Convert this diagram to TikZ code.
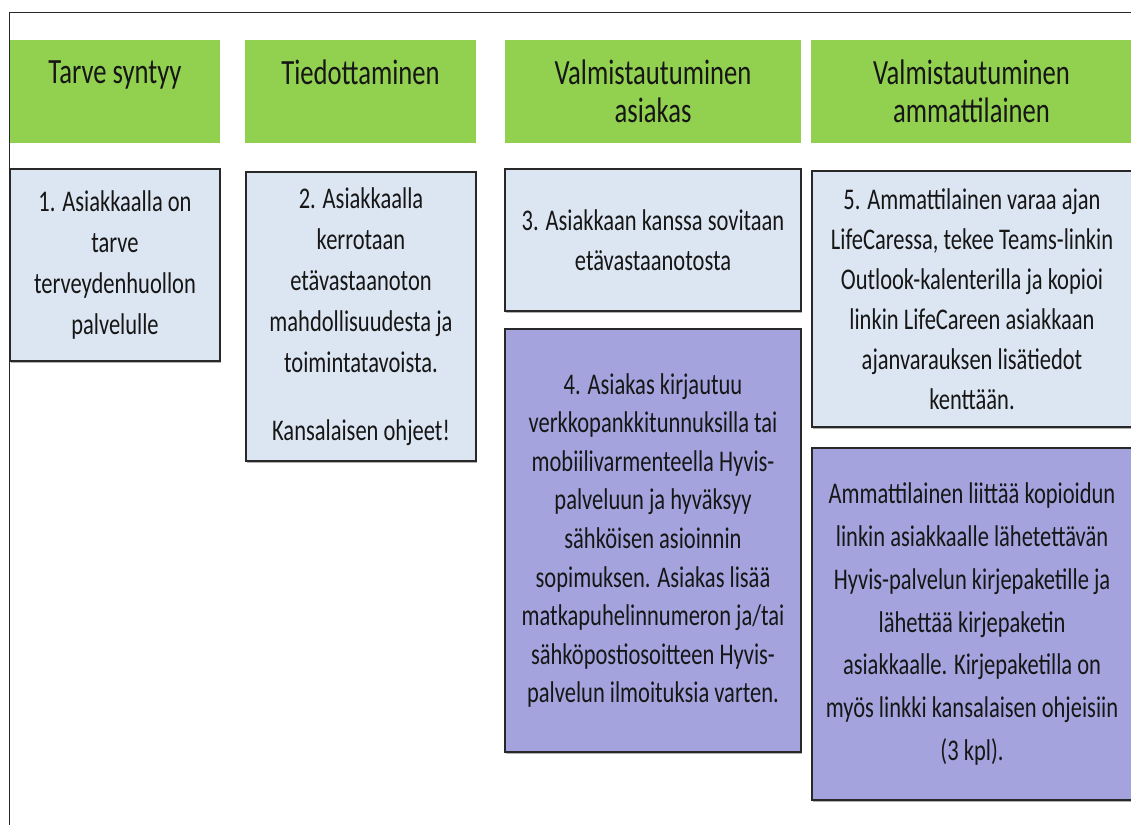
\documentclass[tikz,border=0pt]{standalone}
\usepackage{fontspec}
\setmainfont{Carlito}[FakeStretch=0.75]
\usetikzlibrary{shadows}
\definecolor{headgreen}{RGB}{146,208,80}
\definecolor{paleblue}{RGB}{220,230,242}
\definecolor{lavender}{RGB}{165,163,222}
\definecolor{edge}{RGB}{40,40,40}
\definecolor{ink}{RGB}{22,22,22}
\begin{document}
\begin{tikzpicture}[x=1pt,y=-1pt,
  every node/.style={inner sep=0pt, outer sep=0pt, text=ink, align=center},
  head/.style={fill=headgreen, font=\fontsize{35.5}{38}\selectfont},
  card/.style={draw=edge, line width=1.5pt, font=\fontsize{30}{40}\selectfont,
    drop shadow={shadow xshift=1pt, shadow yshift=-2pt, opacity=0.3, fill=black}},
  infobox/.style={card, fill=paleblue},
  taskbox/.style={card, fill=lavender}]
\useasboundingbox (0,0) rectangle (1131,824);
\clip (0,0) rectangle (1131,824);
\fill[white] (0,0) rectangle (1131,824);

% outer frame
\draw[line width=1.5pt, draw=edge] (9.5,12.5) rectangle (1150,850);

% column headers
\node[head, minimum width=210, minimum height=103] (h1) at (115,91.5) {Tarve syntyy\\\mbox{}};
\node[head, minimum width=231, minimum height=103] (h2) at (360.5,91.5) {Tiedottaminen\\\mbox{}};
\node[head, minimum width=296, minimum height=103] (h3) at (653,91.5) {Valmistautuminen\\asiakas};
\node[head, minimum width=321, minimum height=103] (h4) at (971.5,91.5) {Valmistautuminen\\ammattilainen};

% steps
\node[infobox, minimum width=210, minimum height=192, font=\fontsize{30}{41}\selectfont] (s1) at (115,265)
  {1. Asiakkaalla on\\tarve\\terveydenhuollon\\palvelulle};
\node[infobox, minimum width=230, minimum height=289, font=\fontsize{30}{41}\selectfont] (s2) at (361,316.5)
  {2. Asiakkaalla\\kerrotaan\\etävastaanoton\\mahdollisuudesta ja\\toimintatavoista.\\[27pt]Kansalaisen ohjeet!};
\node[infobox, minimum width=296, minimum height=142] (s3) at (653,240)
  {3. Asiakkaan kanssa sovitaan\\etävastaanotosta};
\node[taskbox, minimum width=296, minimum height=423, font=\fontsize{30}{38.6}\selectfont] (s4) at (653,540.5)
  {4. Asiakas kirjautuu\\verkkopankkitunnuksilla tai\\mobiilivarmenteella Hyvis-\\palveluun ja hyväksyy\\sähköisen asioinnin\\sopimuksen. Asiakas lisää\\matkapuhelinnumeron ja/tai\\sähköpostiosoitteen Hyvis-\\palvelun ilmoituksia varten.};
\node[infobox, minimum width=320, minimum height=256] (s5) at (972,299)
  {5. Ammattilainen varaa ajan\\LifeCaressa, tekee Teams-linkin\\Outlook-kalenterilla ja kopioi\\linkin LifeCareen asiakkaan\\ajanvarauksen lisätiedot\\kenttään.};
\node[taskbox, minimum width=320, minimum height=352, font=\fontsize{30}{42.8}\selectfont] (s6) at (972,624)
  {Ammattilainen liittää kopioidun\\linkin asiakkaalle lähetettävän\\Hyvis-palvelun kirjepaketille ja\\lähettää kirjepaketin\\asiakkaalle. Kirjepaketilla on\\myös linkki kansalaisen ohjeisiin\\(3 kpl).};
\end{tikzpicture}
\end{document}
